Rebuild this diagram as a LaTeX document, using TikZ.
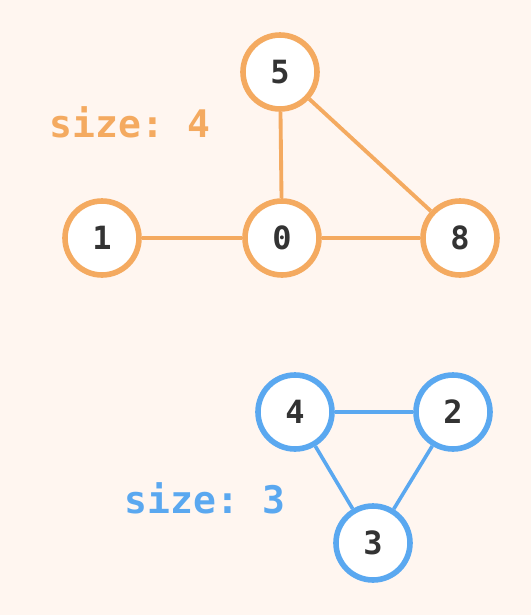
\documentclass[tikz,border=0pt]{standalone}
\usepackage{fontspec}
\setmonofont{DejaVu Sans Mono}
\usepackage{xcolor}
\definecolor{bgpeach}{HTML}{FFF6F0}
\definecolor{orng}{HTML}{F4AA60}
\definecolor{blu}{HTML}{5AA8F0}
\definecolor{ink}{HTML}{333333}
\tikzset{
  gnode/.style={circle, minimum size=55.5pt, inner sep=0pt, fill=white, line width=4.2pt, text=ink, font=\ttfamily\bfseries\fontsize{24}{24}\selectfont},
  onode/.style={gnode, draw=orng},
  bnode/.style={gnode, draw=blu},
  oedge/.style={line width=2.9pt, draw=orng},
  bedge/.style={line width=2.7pt, draw=blu},
  sizelbl/.style={font=\ttfamily\bfseries\fontsize{28.5}{28.5}\selectfont},
}
\begin{document}
\begin{tikzpicture}[x=0.75pt, y=-0.75pt]
\fill[bgpeach] (0,0) rectangle (531,615);
\useasboundingbox (0,0) rectangle (531,615);
% orange component
\node[onode] (n5) at (280,72) {5};
\node[onode] (n1) at (102,238) {1};
\node[onode] (n0) at (282,238) {0};
\node[onode] (n8) at (460,238) {8};
\draw[oedge] (n1) -- (n0);
\draw[oedge] (n0) -- (n8);
\draw[oedge] (n5) -- (n0);
\draw[oedge] (n5) -- (n8);
\node[sizelbl, text=orng] (sz4) at (130,122) {size: 4};
% blue component
\node[bnode] (n4) at (295,412) {4};
\node[bnode] (n2) at (453,412) {2};
\node[bnode] (n3) at (373,543) {3};
\draw[bedge] (n4) -- (n2);
\draw[bedge] (n4) -- (n3);
\draw[bedge] (n2) -- (n3);
\node[sizelbl, text=blu] (sz3) at (205,498) {size: 3};
\end{tikzpicture}
\end{document}
